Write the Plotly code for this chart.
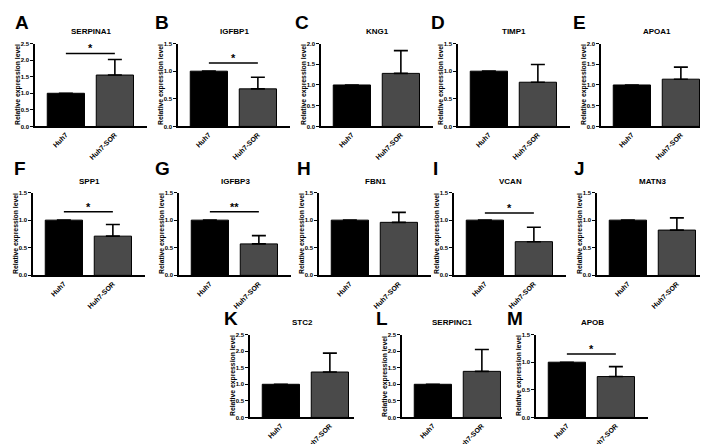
import plotly.graph_objects as go

# ---------------- data ----------------
genes = ["SERPINA1", "IGFBP1", "KNG1", "TIMP1", "APOA1", "SPP1", "IGFBP3",
         "FBN1", "VCAN", "MATN3", "STC2", "SERPINC1", "APOB"]
letters = ["A", "B", "C", "D", "E", "F", "G", "H", "I", "J", "K", "L", "M"]
groups = ["Huh7", "Huh7-SOR"]
huh7_vals = [1.0, 1.0, 1.0, 1.0, 1.0, 1.0, 1.0, 1.0, 1.0, 1.0, 1.0, 1.0, 1.0]
sor_vals = [1.55, 0.68, 1.28, 0.80, 1.14, 0.71, 0.57, 0.96, 0.61, 0.82, 1.37, 1.39, 0.74]
sor_err = [0.47, 0.21, 0.55, 0.32, 0.29, 0.21, 0.15, 0.18, 0.26, 0.22, 0.57, 0.66, 0.18]
y_max = [2.5, 1.5, 2.0, 1.5, 2.0, 1.5, 1.5, 1.5, 1.5, 1.5, 2.5, 2.5, 1.5]
y_step = [0.5] * 13
sig_text = ["*", "*", "", "", "", "*", "**", "", "*", "", "", "", "*"]
sig_level = [2.2, 1.15, None, None, None, 1.15, 1.15, None, 1.13, None, None, None, 1.15]
y_title = "Relative expression level"

# ---------------- layout (pixels) ----------------
W, H = 708, 444
axis_left = [27, 170, 313, 450, 593, 25, 171, 311, 446, 589, 242, 394, 528]
plot_w = [112] * 10 + [104, 100, 112]
row_of = [0] * 5 + [1] * 5 + [2] * 3
row_top = [33, 184, 328]
row_zero = [117, 268, 412]
title_y = [21, 173, 316]
letter_y = [12, 160, 312]
letter_x = [5, 145, 285, 421, 563, 4, 145, 287, 423, 564, 214, 366, 497]

FONT = "Liberation Sans, Arial, sans-serif"
BAR_COLORS = ["#000000", "#4a4a4a"]


def px_x(p):
    return p / W


def px_y(p):
    return 1 - p / H


fig = go.Figure()
layout = dict(
    width=W, height=H, margin=dict(l=0, r=0, t=0, b=0),
    paper_bgcolor="white", plot_bgcolor="white", showlegend=False,
    font=dict(family=FONT, color="black"),
)
annotations = []
shapes = []

for i in range(13):
    n = i + 1
    xa = "x" if n == 1 else f"x{n}"
    ya = "y" if n == 1 else f"y{n}"
    xkey = "xaxis" if n == 1 else f"xaxis{n}"
    ykey = "yaxis" if n == 1 else f"yaxis{n}"
    r = row_of[i]
    x0 = axis_left[i]
    w = plot_w[i]
    span = w / 49.0
    xr = [-0.63, -0.63 + span]

    fig.add_trace(go.Bar(
        x=groups, y=[huh7_vals[i], sor_vals[i]],
        xaxis=xa, yaxis=ya, width=0.76,
        marker=dict(color=BAR_COLORS, line=dict(color="black", width=1)),
        error_y=dict(type="data", symmetric=False, array=[0, sor_err[i]],
                     arrayminus=[0, 0], color="black", thickness=1.6, width=7),
    ))

    layout[xkey] = dict(
        domain=[px_x(x0), px_x(x0 + w)], anchor=ya,
        range=xr, type="category",
        showline=True, linecolor="black", linewidth=1.6,
        ticks="", showgrid=False, zeroline=False, tickangle=-45,
        tickfont=dict(family=FONT, size=7, weight="bold", color="black"),
    )
    layout[ykey] = dict(
        domain=[px_y(row_zero[r]), px_y(row_top[r])], anchor=xa,
        range=[0, y_max[i]], dtick=y_step[i], tick0=0, tickformat=".1f",
        showline=True, linecolor="black", linewidth=1.6,
        ticks="outside", ticklen=3, tickwidth=1.4, tickcolor="black",
        showgrid=False, zeroline=False,
        tickfont=dict(family=FONT, size=6, weight="bold", color="black"),
    )

    annotations.append(dict(
        xref="paper", yref="paper", x=px_x(x0 + w / 2), y=px_y(title_y[r]),
        text=genes[i], showarrow=False, xanchor="center", yanchor="middle",
        font=dict(family=FONT, size=8, weight="bold", color="black"),
    ))
    annotations.append(dict(
        xref="paper", yref="paper", x=px_x(letter_x[i]), y=px_y(letter_y[r]),
        text=letters[i], showarrow=False, xanchor="left", yanchor="middle",
        font=dict(family=FONT, size=19, weight="bold", color="black"),
    ))
    annotations.append(dict(
        xref="paper", yref="paper", x=px_x(x0 - 17),
        y=px_y((row_top[r] + row_zero[r]) / 2),
        text=y_title, showarrow=False, textangle=-90,
        xanchor="center", yanchor="middle",
        font=dict(family=FONT, size=6.8, weight="bold", color="black"),
    ))
    if sig_text[i]:
        shapes.append(dict(
            type="line", xref=xa, yref=ya, x0=0, x1=1,
            y0=sig_level[i], y1=sig_level[i],
            line=dict(color="black", width=1.5),
        ))
        annotations.append(dict(
            xref=xa, yref=ya, x=0.5, y=sig_level[i], text=sig_text[i],
            showarrow=False, xanchor="center", yanchor="bottom", yshift=-3,
            font=dict(family=FONT, size=11, weight="bold", color="black"),
        ))

layout["annotations"] = annotations
layout["shapes"] = shapes
fig.update_layout(**layout)
fig.write_html("out.html")
